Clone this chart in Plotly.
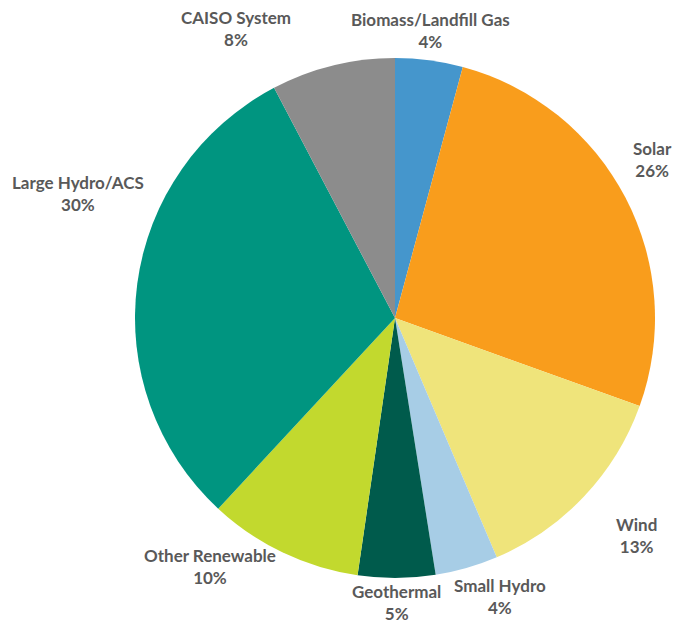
import math
import plotly.graph_objects as go

categories = ["Biomass/Landfill Gas", "Solar", "Wind", "Small Hydro", "Geothermal",
              "Other Renewable", "Large Hydro/ACS", "CAISO System"]
values = [4.2, 26.3, 13.1, 3.9, 4.8, 9.6, 30.4, 7.7]
colors = ["#4596cc", "#f99d1c", "#efe47b", "#a7cde6", "#005b4c",
          "#c2d92e", "#009580", "#8c8c8c"]
# label nudges in pixels (x right, y down) relative to a point along each slice's mid-angle
label_nudge = [(-4, 10), (-9, -20), (23, 11), (22, -10), (0, -15),
               (-56, -22), (-20, -85), (-87, 2)]

W, H = 673, 624
cx, cy, R = 395, 318, 260
dom_x = [(cx - R) / W, (cx + R) / W]
dom_y = [1 - (cy + R) / H, 1 - (cy - R) / H]

fig = go.Figure(go.Pie(
    labels=categories, values=values, sort=False, direction="clockwise",
    rotation=0, marker=dict(colors=colors, line=dict(width=0)),
    textinfo="none", hoverinfo="label+percent", showlegend=False,
    domain=dict(x=dom_x, y=dom_y),
))

total = sum(values)
cum = 0
annotations = []
for cat, v, (nx, ny) in zip(categories, values, label_nudge):
    mid = (cum + v / 2) / total * 2 * math.pi
    cum += v
    r_lab = 300
    px = cx + r_lab * math.sin(mid) + nx
    py = cy - r_lab * math.cos(mid) + ny
    pct = round(v / total * 100)
    annotations.append(dict(
        x=px / W, y=1 - py / H, xref="paper", yref="paper",
        text=f"{cat}<br>{pct}%", showarrow=False, align="center",
        xanchor="center", yanchor="middle",
        font=dict(family="Lato", size=17, color="#595959", weight="bold"),
    ))

fig.update_layout(
    width=W, height=H, margin=dict(l=0, r=0, t=0, b=0),
    paper_bgcolor="white", plot_bgcolor="white",
    annotations=annotations,
)
fig.write_html("out.html", config={"displayModeBar": False},
               post_script="document.body.style.margin='0';")
